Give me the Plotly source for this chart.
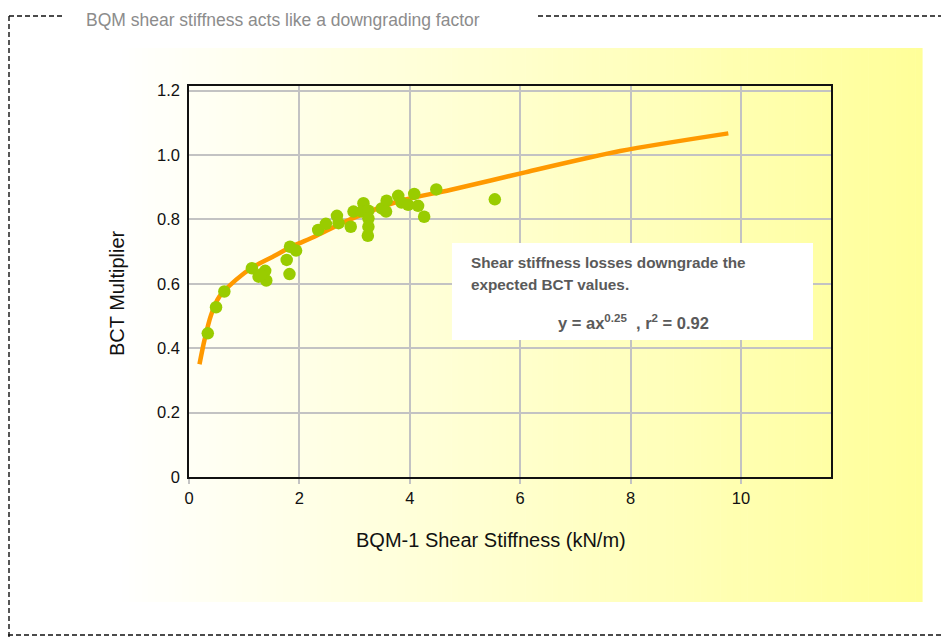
import plotly.graph_objects as go

# ---- data ----
stiffness = [0.34, 0.49, 0.64, 1.14, 1.26, 1.38, 1.40, 1.30, 1.77, 1.82, 1.83, 1.94,
             2.34, 2.48, 2.68, 2.71, 2.93, 2.98, 3.16, 3.13, 3.25, 3.25, 3.25, 3.24,
             3.49, 3.58, 3.57, 3.79, 3.85, 3.97, 4.08, 4.15, 4.26, 4.48, 5.54]
bct_mult = [0.446, 0.527, 0.576, 0.648, 0.622, 0.640, 0.610, 0.628, 0.674, 0.630, 0.715, 0.703,
            0.767, 0.786, 0.811, 0.788, 0.777, 0.824, 0.850, 0.824, 0.827, 0.803, 0.777, 0.749,
            0.834, 0.858, 0.824, 0.873, 0.852, 0.845, 0.879, 0.842, 0.808, 0.893, 0.862]

fit_x = [0.19, 0.28, 0.40, 0.55, 0.85, 1.15, 1.52, 1.88, 2.27, 2.92, 3.88, 4.73, 6.09, 7.81, 9.77]
fit_y = [0.350, 0.425, 0.503, 0.560, 0.612, 0.651, 0.684, 0.717, 0.746, 0.800, 0.860, 0.891, 0.946, 1.012, 1.067]

x_tickvals = [0, 2, 4, 6, 8, 10]
x_ticktext = ["0", "2", "4", "6", "8", "10"]
y_tickvals = [0, 0.2, 0.4, 0.6, 0.8, 1.0, 1.2]
y_ticktext = ["0", "0.2", "0.4", "0.6", "0.8", "1.0", "1.2"]

title_text = "BQM shear stiffness acts like a downgrading factor"
x_title = "BQM-1 Shear Stiffness (kN/m)"
y_title = "BCT Multiplier"
note_lines = ["Shear stiffness losses downgrade the", "expected BCT values."]
formula = "y = ax<sup>0.25</sup>  , r<sup>2</sup> = 0.92"

# ---- layout geometry (reference pixels) ----
W_REF, H_REF = 949, 638
BODY = 8  # default page margin of the html body
L, R, T, B = 189, 831, 86, 477
PW, PH = R - L, B - T
FONT = "Liberation Sans, Arial, sans-serif"


def px(x):
    return (x - L) / PW


def py(y):
    return (B - y) / PH


shapes = []
# gradient background (white -> pale yellow)
g_x0, g_x1, g_y0, g_y1 = 115, 922, 48, 602
N = 120
for i in range(N):
    t = (i + 0.5) / N
    b_ = int(round(255 + (153 - 255) * t))
    xa = g_x0 + (g_x1 - g_x0) * i / N
    xb = g_x0 + (g_x1 - g_x0) * (i + 1) / N + 0.6
    shapes.append(dict(type="rect", xref="paper", yref="paper",
                       x0=px(xa), x1=px(xb), y0=py(g_y1), y1=py(g_y0),
                       fillcolor=f"rgb(255,255,{b_})", line=dict(width=0), layer="below"))

dash_line = dict(color="#111111", width=1.4, dash="5px,3px")
# dashed frame
shapes.append(dict(type="line", xref="paper", yref="paper", x0=px(9), x1=px(62), y0=py(16), y1=py(16), line=dash_line))
shapes.append(dict(type="line", xref="paper", yref="paper", x0=px(538), x1=px(949), y0=py(16), y1=py(16), line=dash_line))
shapes.append(dict(type="line", xref="paper", yref="paper", x0=px(9), x1=px(9), y0=py(16), y1=py(638), line=dash_line))
shapes.append(dict(type="line", xref="paper", yref="paper", x0=px(0), x1=px(949), y0=py(635), y1=py(635), line=dash_line))

# white note box
shapes.append(dict(type="rect", xref="paper", yref="paper",
                   x0=px(452), x1=px(813), y0=py(340), y1=py(243),
                   fillcolor="white", line=dict(width=0), layer="above"))

annotations = [
    dict(text=title_text, xref="paper", yref="paper", x=px(85), y=py(8.5),
         xanchor="left", yanchor="top", showarrow=False, borderpad=0,
         font=dict(family=FONT, size=17.5, color="#8c8c8c")),
    dict(text=x_title, xref="paper", yref="paper", x=px(491), y=py(540),
         xanchor="center", yanchor="middle", showarrow=False,
         font=dict(family=FONT, size=20, color="#111111")),
    dict(text=y_title, xref="paper", yref="paper", x=px(117), y=py(293),
         xanchor="center", yanchor="middle", showarrow=False, textangle=-90,
         font=dict(family=FONT, size=20, color="#111111")),
    dict(text="<b>" + note_lines[0] + "</b>", xref="paper", yref="paper", x=px(469), y=py(262),
         xanchor="left", yanchor="middle", showarrow=False,
         font=dict(family=FONT, size=15.3, color="#5a5a5a")),
    dict(text="<b>" + note_lines[1] + "</b>", xref="paper", yref="paper", x=px(469), y=py(284),
         xanchor="left", yanchor="middle", showarrow=False,
         font=dict(family=FONT, size=15.3, color="#5a5a5a")),
    dict(text="<b>" + formula + "</b>", xref="paper", yref="paper", x=px(633), y=py(322),
         xanchor="center", yanchor="middle", showarrow=False,
         font=dict(family=FONT, size=16.5, color="#5a5a5a")),
]

fig = go.Figure()
fig.add_trace(go.Scatter(x=fit_x, y=fit_y, mode="lines",
                         line=dict(color="#ff9900", width=4.5, shape="spline", smoothing=0.8),
                         hoverinfo="skip", showlegend=False))
fig.add_trace(go.Scatter(x=stiffness, y=bct_mult, mode="markers",
                         marker=dict(color="#99cc00", size=12.5, line=dict(width=0)),
                         showlegend=False))

fig.update_layout(
    width=W_REF - BODY, height=H_REF - BODY,
    margin=dict(l=L - BODY, r=W_REF - R, t=T - BODY, b=H_REF - B, pad=0),
    paper_bgcolor="white", plot_bgcolor="rgba(0,0,0,0)",
    shapes=shapes, annotations=annotations,
    font=dict(family=FONT, size=16.5, color="#111111"),
)
fig.update_xaxes(range=[0, 11.63], tickvals=x_tickvals, ticktext=x_ticktext,
                 showgrid=True, gridcolor="#c3c3c3", gridwidth=1.5,
                 showline=True, linecolor="#111111", linewidth=1.6, mirror=True,
                 ticks="outside", ticklen=5, tickcolor="#c3c3c3", tickwidth=1.5,
                 zeroline=False, tickfont=dict(size=16.5))
fig.update_yaxes(range=[0, 1.214], tickvals=y_tickvals, ticktext=y_ticktext,
                 showgrid=True, gridcolor="#c3c3c3", gridwidth=1.5,
                 showline=True, linecolor="#111111", linewidth=1.6, mirror=True,
                 ticks="outside", ticklen=4, tickcolor="rgba(0,0,0,0)",
                 zeroline=False, tickfont=dict(size=16.5))

fig.write_html("out.html")
